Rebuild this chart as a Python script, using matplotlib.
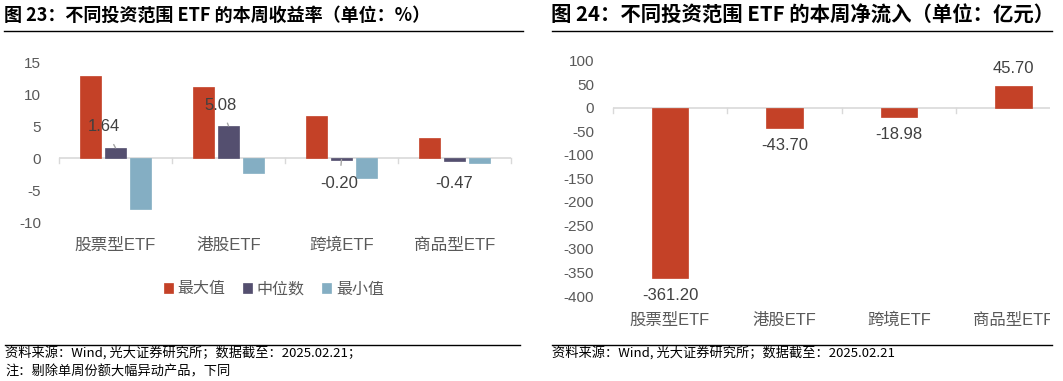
import matplotlib
matplotlib.use("Agg")
import matplotlib.pyplot as plt
from matplotlib.patches import Rectangle
from matplotlib.lines import Line2D
import numpy as np

CHART_FONT = ['Liberation Sans', 'Noto Sans CJK SC']
TEXT_FONT = ['Noto Sans CJK SC', 'DejaVu Sans']
plt.rcParams['font.family'] = CHART_FONT

# ---------------- data ----------------
categories = ["股票型ETF", "港股ETF", "跨境ETF", "商品型ETF"]
ret_max = [12.9, 11.1, 6.6, 3.1]
ret_median = [1.64, 5.08, -0.20, -0.47]
ret_min = [-7.9, -2.25, -3.1, -0.7]
series_names = ["最大值", "中位数", "最小值"]
left_yticks = [15, 10, 5, 0, -5, -10]

net_flow = [-361.20, -43.70, -18.98, 45.70]
right_yticks = [100, 50, 0, -50, -100, -150, -200, -250, -300, -350, -400]

title_left = "图 23：不同投资范围 ETF 的本周收益率（单位：%）"
title_right = "图 24：不同投资范围 ETF 的本周净流入（单位：亿元）"
source_left = "资料来源：Wind, 光大证券研究所；数据截至：2025.02.21；"
note_left = "注：剔除单周份额大幅异动产品，下同"
source_right = "资料来源：Wind, 光大证券研究所；数据截至：2025.02.21"

# ---------------- style ----------------
W, H = 1063, 381
RED = "#C44127"
PURPLE = "#544F6F"
BLUE = "#84AEC3"
GRAY_TXT = "#595959"
VAL_TXT = "#404040"
AXIS_GRAY = "#D9D9D9"

fig = plt.figure(figsize=(W / 100, H / 100), dpi=100)


def px_axes(x0, x1, ytop, ybot):
    return fig.add_axes([x0 / W, 1 - ybot / H, (x1 - x0) / W, (ybot - ytop) / H])


def fig_line(x0, x1, y, lw=1.0, color="black"):
    fig.add_artist(Line2D([x0 / W, x1 / W], [1 - y / H, 1 - y / H],
                          transform=fig.transFigure, color=color, lw=lw))


def fig_text(x, y, s, **kw):
    fig.text(x / W, 1 - y / H, s, **kw)


# ---------------- titles / footers ----------------
fig_text(4, 15, title_left, fontsize=13, fontweight="bold", va="center", ha="left",
         color="black", family=TEXT_FONT)
fig_text(551, 15, title_right, fontsize=14.7, fontweight="bold", va="center", ha="left",
         color="black", family=TEXT_FONT)
fig_line(4, 523, 31)
fig_line(552, 1052, 31)
fig_line(5, 520, 345)
fig_line(552, 1052, 345)
fig_text(5, 353, source_left, fontsize=9.5, va="center", ha="left", color="black", family=TEXT_FONT)
fig_text(5, 372, note_left, fontsize=9.5, va="center", ha="left", color="black", family=TEXT_FONT)
fig_text(552, 353, source_right, fontsize=9.5, va="center", ha="left", color="black", family=TEXT_FONT)

# ---------------- left chart ----------------
axL = px_axes(59, 511, 62.3, 222.3)
x = np.arange(len(categories))
bw = 0.18
off = 0.22
axL.bar(x - off, ret_max, bw, color=RED, edgecolor=RED, lw=0.5, label=series_names[0], zorder=2)
axL.bar(x, ret_median, bw, color=PURPLE, edgecolor=PURPLE, lw=0.5, label=series_names[1], zorder=2)
axL.bar(x + off, ret_min, bw, color=BLUE, edgecolor=BLUE, lw=0.5, label=series_names[2], zorder=2)
axL.set_xlim(-0.5, len(categories) - 0.5)
axL.set_ylim(-10, 15)
axL.axhline(0, color=AXIS_GRAY, lw=1.2, zorder=1)
for b in np.arange(-0.5, len(categories) - 0.4, 1.0):
    axL.plot([b, b], [0, -0.75], color=AXIS_GRAY, lw=1.0, clip_on=False, zorder=1)
for s in axL.spines.values():
    s.set_visible(False)
axL.set_yticks(left_yticks)
axL.set_yticklabels([str(v) for v in left_yticks])
axL.tick_params(axis="y", length=0, pad=13, labelsize=11, labelcolor=GRAY_TXT)
axL.set_xticks([])
for i, c in enumerate(categories):
    axL.annotate(c, (i, 0), xycoords=("data", "axes fraction"), xytext=(0, -16.5),
                 textcoords="offset points", ha="center", va="center",
                 fontsize=12, color=GRAY_TXT, annotation_clip=False)

# median labels with leader lines
label_pos = [(-0.10, 4.9), (-0.075, 8.3), (-0.02, -4.0), (0.0, -4.0)]
leader = [True, True, True, False]
for i, v in enumerate(ret_median):
    dx, ty = label_pos[i]
    if leader[i]:
        axL.annotate(f"{v:.2f}", xy=(i, v), xytext=(i + dx, ty), ha="center", va="center",
                     fontsize=12, color=VAL_TXT,
                     arrowprops=dict(arrowstyle="-", color="#A6A6A6", lw=1.0,
                                     shrinkA=6, shrinkB=0), zorder=3)
    else:
        axL.text(i + dx, ty, f"{v:.2f}", ha="center", va="center", fontsize=12, color=VAL_TXT)

handles, labels = axL.get_legend_handles_labels()
fig.legend(handles, labels, loc="center", bbox_to_anchor=(274 / W, 1 - 289 / H), ncol=3,
           frameon=False, prop={'family': TEXT_FONT, 'size': 11.5},
           handlelength=0.55, handleheight=0.55,
           handletextpad=0.3, columnspacing=1.1, labelcolor=GRAY_TXT)

# ---------------- right chart ----------------
step = 114.5
axR = px_axes(612.7, 612.7 + 4 * step, 60.7, 296.0)
xr = np.arange(len(categories))
axR.bar(xr, net_flow, 0.32, color=RED, edgecolor=RED, lw=0.5, zorder=2)
axR.set_xlim(-0.5, len(categories) - 0.5)
axR.set_ylim(-400, 100)
axR.axhline(0, color=AXIS_GRAY, lw=1.2, zorder=1)
for b in np.arange(-0.5, len(categories) - 0.6, 1.0):
    axR.plot([b, b], [0, -12], color=AXIS_GRAY, lw=1.0, clip_on=False, zorder=1)
for s in axR.spines.values():
    s.set_visible(False)
axR.set_yticks(right_yticks)
axR.set_yticklabels([str(v) for v in right_yticks])
axR.tick_params(axis="y", length=0, pad=13.5, labelsize=11, labelcolor=GRAY_TXT)
axR.set_xticks([])
for i, c in enumerate(categories):
    axR.annotate(c, (i, 0), xycoords=("data", "axes fraction"), xytext=(0, -17.5),
                 textcoords="offset points", ha="center", va="center",
                 fontsize=11.8, color=GRAY_TXT, annotation_clip=False)
for i, v in enumerate(net_flow):
    axR.annotate(f"{v:.2f}", (i, v), xytext=(0, 12.5 if v > 0 else -12.5),
                 textcoords="offset points", ha="center", va="center",
                 fontsize=12, color=VAL_TXT)

# crop at right edge like the reference
fig.add_artist(Rectangle((1050 / W, 40 / H), (W - 1050) / W, (338 - 40) / H,
                         transform=fig.transFigure, facecolor="white", edgecolor="none",
                         zorder=10))

fig.savefig("out.png", dpi=100)
